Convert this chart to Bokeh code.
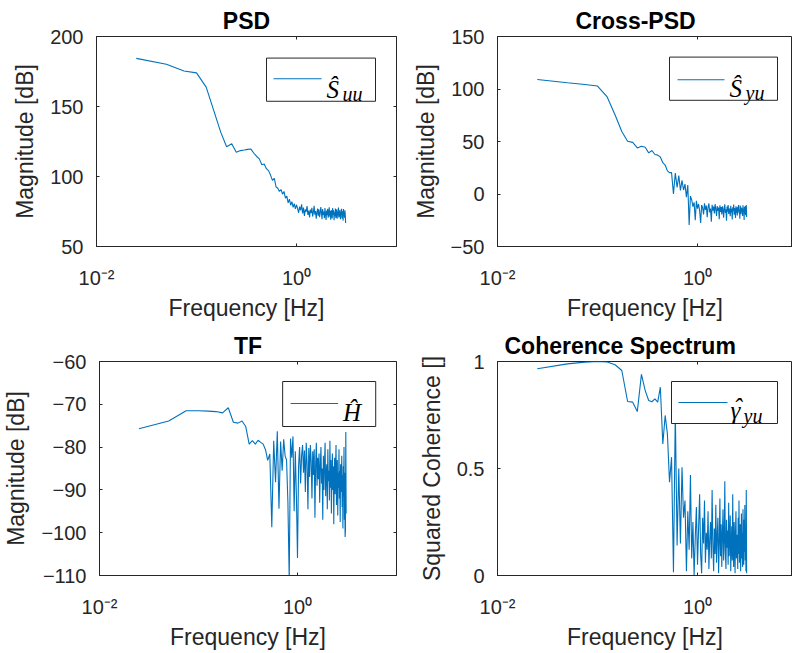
import numpy as np
from bokeh.plotting import figure
from bokeh.models import (Range1d, FixedTicker, LinearAxis, LogAxis,
                          BoxAnnotation, Label)
from bokeh.layouts import column, row
from bokeh.embed import file_html
from bokeh.resources import INLINE

# ---------------- data ----------------
freq_step = 0.025          # Hz, FFT bin spacing
n_bins = 124
freq = freq_step * np.arange(1, n_bins + 1)

psd_uu = [
    184.4, 180.2, 175.3, 174.0, 163.8, 146.3, 131.5, 121.3, 123.4, 117.3,
    118.5, 118.9, 119.4, 119.6, 116.6, 114.3, 112.6, 108.4, 108.9, 105.6,
    104.2, 101.0, 97.2, 98.6, 92.5, 91.6, 89.3, 90.7, 87.4, 89.3,
    84.5, 86.0, 81.2, 83.8, 79.5, 82.1, 78.0, 80.6, 76.9, 79.8,
    77.2, 74.1, 78.5, 75.9, 80.2, 73.6, 77.8, 71.9, 76.4, 74.8,
    78.9, 72.5, 75.7, 70.8, 76.3, 73.9, 77.6, 71.4, 74.6, 79.0,
    72.8, 75.4, 69.8, 74.2, 77.1, 72.0, 76.5, 70.9, 73.7, 78.2,
    74.4, 69.5, 76.8, 72.6, 75.0, 70.2, 77.4, 73.1, 68.9, 75.7,
    72.3, 76.9, 70.5, 74.0, 78.0, 71.2, 75.3, 69.2, 76.1, 73.4,
    70.1, 77.5, 72.7, 75.9, 68.7, 74.5, 71.6, 77.2, 70.4, 73.8,
    76.6, 69.9, 74.9, 72.1, 77.8, 70.7, 75.6, 71.3, 76.2, 69.4,
    74.3, 72.9, 77.0, 70.0, 75.1, 73.2, 68.5, 76.7, 71.8, 74.7,
    70.6, 75.8, 72.4, 66.8,
]

cpsd_yu = [
    109.0, 106.0, 104.3, 102.8, 92.4, 75.2, 59.6, 50.2, 49.2, 43.9,
    45.5, 44.5, 39.2, 41.4, 37.6, 37.0, 35.2, 29.8, 27.6, 22.0,
    20.4, 20.4, 0.1, 20.0, 6.3, 17.6, 3.5, 13.0, 3.8, 9.4,
    -3.0, 8.5, -29.6, -2.0, -5.5, -12.0, -8.0, -25.0, -6.5, -14.0,
    -9.5, -16.0, -27.5, -10.5, -13.0, -19.5, -8.8, -15.2, -11.0, -22.0,
    -12.5, -9.0, -17.5, -13.8, -26.5, -10.2, -15.8, -12.0, -18.6, -9.6,
    -14.5, -20.8, -11.5, -16.2, -13.0, -24.0, -10.8, -17.0, -12.4, -19.5,
    -11.8, -15.4, -22.5, -13.2, -9.8, -18.0, -14.6, -25.5, -12.0, -16.8,
    -10.5, -19.0, -13.8, -15.5, -21.2, -11.2, -17.5, -14.0, -24.2, -12.6,
    -16.0, -10.0, -19.8, -13.4, -15.2, -22.8, -11.6, -17.8, -13.0, -20.5,
    -12.2, -16.5, -10.4, -18.4, -14.8, -23.5, -11.0, -15.8, -19.2, -12.8,
    -17.2, -13.6, -21.0, -10.8, -16.4, -14.2, -24.8, -12.4, -18.8, -11.4,
    -20.2, -13.2, -10.6, -22.0,
]

tf_h = [
    -75.7, -73.9, -71.5, -71.5, -71.6, -71.7, -72.0, -70.8, -74.2, -74.4,
    -73.9, -75.2, -79.3, -78.5, -79.3, -78.4, -78.9, -79.3, -80.6, -83.1,
    -81.6, -98.7, -78.5, -88.2, -76.3, -94.4, -78.7, -85.5, -78.2, -82.1,
    -83.0, -92.9, -111.0, -78.0, -82.5, -77.5, -95.0, -81.0, -91.5, -105.9,
    -84.5, -80.0, -88.5, -82.0, -79.5, -86.0, -80.8, -90.5, -79.0, -84.0,
    -94.5, -80.2, -87.0, -79.5, -83.5, -92.0, -81.0, -86.5, -80.5, -96.5,
    -84.0, -79.0, -89.0, -82.5, -87.5, -81.5, -93.0, -84.5, -80.0, -88.5,
    -85.0, -97.0, -82.0, -90.0, -83.5, -79.0, -91.5, -86.0, -84.0, -94.5,
    -80.5, -88.0, -85.5, -92.5, -78.5, -89.5, -83.0, -95.5, -86.5, -81.5,
    -90.0, -84.5, -98.0, -87.0, -82.5, -91.0, -85.0, -79.5, -93.5, -88.0,
    -83.0, -96.0, -86.0, -89.5, -80.5, -92.0, -85.5, -97.5, -84.0, -90.5,
    -88.0, -82.0, -94.0, -86.5, -99.0, -84.5, -91.5, -80.0, -97.0, -86.0,
    -101.0, -99.5, -76.5, -95.5,
]

coh_yu = [
    0.966, 0.989, 0.997, 1.0, 0.998, 0.985, 0.958, 0.813, 0.81, 0.766,
    0.94, 0.864, 0.818, 0.812, 0.825, 0.81, 0.88, 0.615, 0.748, 0.662,
    0.436, 0.553, 0.015, 0.77, 0.14, 0.5, 0.15, 0.506, 0.27, 0.35,
    0.02, 0.30, 0.12, 0.47, 0.08, 0.25, 0.00, 0.18, 0.32, 0.05,
    0.22, 0.38, 0.10, 0.01, 0.27, 0.15, 0.35, 0.06, 0.20, 0.12,
    0.30, 0.03, 0.17, 0.25, 0.08, 0.40, 0.14, 0.02, 0.22, 0.10,
    0.33, 0.06, 0.19, 0.27, 0.01, 0.15, 0.36, 0.09, 0.24, 0.04,
    0.20, 0.31, 0.07, 0.16, 0.44, 0.11, 0.03, 0.26, 0.13, 0.21,
    0.05, 0.34, 0.09, 0.18, 0.28, 0.02, 0.14, 0.23, 0.07, 0.38,
    0.12, 0.04, 0.25, 0.16, 0.01, 0.21, 0.30, 0.08, 0.13, 0.19,
    0.03, 0.27, 0.10, 0.35, 0.06, 0.17, 0.24, 0.02, 0.12, 0.29,
    0.08, 0.20, 0.04, 0.31, 0.15, 0.05, 0.26, 0.11, 0.33, 0.07,
    0.22, 0.02, 0.40, 0.01,
]

x_ticks = [0.01, 1.0]
x_tick_labels = {0.01: "10\u207b\u00b2", 1.0: "10\u2070"}
psd_yticks = [50, 100, 150, 200]
cpsd_yticks = [-50, 0, 50, 100, 150]
tf_yticks = [-110, -100, -90, -80, -70, -60]
coh_yticks = [0, 0.5, 1]
coh_ytick_labels = {0: "0", 0.5: "0.5", 1: "1"}

# ---------------- style ----------------
FONT = "Liberation Sans"
MATH_FONT = "Liberation Serif"
AX = "#262626"
BLUE = "#0072BD"
X_MIN = 0.01


def style_axis(ax):
    ax.axis_line_color = AX
    ax.major_tick_line_color = AX
    ax.minor_tick_line_color = None
    ax.major_tick_in = 3
    ax.major_tick_out = 0
    ax.major_label_text_font = FONT
    ax.major_label_text_font_size = "20px"
    ax.major_label_text_color = AX
    ax.axis_label_text_font = FONT
    ax.axis_label_text_font_size = "23px"
    ax.axis_label_text_font_style = "normal"
    ax.axis_label_text_color = AX


def hide_labels(ax):
    ax.axis_line_color = None
    ax.major_label_text_font_size = "1px"
    ax.major_label_text_alpha = 0.0
    ax.major_label_standoff = 0


def make_panel(title, ylabel, series, yr, yticks, ytick_labels, legend,
               left_col, top_row):
    fw = 300 if left_col else 295
    x_max = 10 ** (np.log10(X_MIN) + fw / 100.0)
    width = 400 if left_col else 392
    mb_left = 96 if left_col else 97
    mb_right = 4 if left_col else 0
    if top_row:
        height, mb_top, mb_bottom = 323, 36, 73
    else:
        height, mb_top, mb_bottom = 330, 38, 78
    fh = height - mb_top - mb_bottom

    p = figure(output_backend="svg", toolbar_location=None,
               x_axis_type="log", width=width, height=height,
               x_range=Range1d(X_MIN, x_max), y_range=Range1d(*yr),
               min_border_left=mb_left, min_border_right=mb_right,
               min_border_top=mb_top, min_border_bottom=mb_bottom,
               background_fill_color="white", border_fill_color="white")
    p.grid.visible = False
    p.outline_line_color = AX
    p.outline_line_width = 1

    p.title.text = title
    p.title.text_font = FONT
    p.title.text_font_size = "23px"
    p.title.text_font_style = "bold"
    p.title.text_color = "black"
    p.title.standoff = 6
    if left_col:
        p.title.align = "center"
    else:
        p.title.align = "left"
        p.title.offset = legend["title_offset"]

    xa = p.xaxis[0]
    style_axis(xa)
    xa.ticker = FixedTicker(ticks=x_ticks)
    xa.major_label_overrides = x_tick_labels
    xa.major_label_standoff = 20
    xa.axis_label = "Frequency [Hz]"
    xa.axis_label_standoff = 3

    ya = p.yaxis[0]
    style_axis(ya)
    ya.ticker = FixedTicker(ticks=yticks)
    if ytick_labels:
        ya.major_label_overrides = ytick_labels
    ya.major_label_standoff = 13
    ya.axis_label = ylabel
    ya.axis_label_standoff = 9

    top = LogAxis(ticker=FixedTicker(ticks=x_ticks))
    style_axis(top)
    hide_labels(top)
    p.add_layout(top, "above")
    if left_col:
        rt = LinearAxis(ticker=FixedTicker(ticks=yticks))
        style_axis(rt)
        hide_labels(rt)
        p.add_layout(rt, "right")

    p.line(freq, series, line_color=BLUE, line_width=1.1)

    # legend drawn by hand (frame-relative pixel positions)
    y0, y1 = yr

    def fx(px):
        return 10 ** (np.log10(X_MIN) + px / 100.0)

    def fy(py):
        return y1 - py / fh * (y1 - y0)

    l, r, t, b = legend["box"]
    p.add_layout(BoxAnnotation(left=fx(l), right=fx(r), top=fy(t), bottom=fy(b),
                               fill_color="white", fill_alpha=1.0,
                               line_color=AX, line_width=1, line_alpha=1.0))
    sx0, sx1, sy = legend["sample"]
    p.segment(x0=[fx(sx0)], y0=[fy(sy)], x1=[fx(sx1)], y1=[fy(sy)],
              line_color=BLUE, line_width=1.1, level="overlay")
    for txt, px, py, size in legend["texts"]:
        p.add_layout(Label(x=fx(px), y=fy(py), text=txt, text_font=MATH_FONT,
                           text_font_style="italic", text_font_size=size,
                           text_color="black", text_baseline="alphabetic",
                           text_align="left"))
    return p


p1 = make_panel("PSD", "Magnitude [dB]", psd_uu, (50, 200), psd_yticks, None,
                {"box": (170, 279, 22, 66), "sample": (177, 225, 43),
                 "texts": [("\u015c", 230, 54, "25px"), ("uu", 246, 59, "20px")]},
                True, True)
p2 = make_panel("Cross-PSD", "Magnitude [dB]", cpsd_yu, (-50, 150), cpsd_yticks, None,
                {"box": (172, 280, 21, 65), "sample": (180, 227, 44),
                 "texts": [("\u015c", 232, 53, "25px"), ("yu", 248, 58, "20px")],
                 "title_offset": 78},
                False, True)
p3 = make_panel("TF", "Magnitude [dB]", tf_h, (-110, -60), tf_yticks, None,
                {"box": (185, 279, 20, 65), "sample": (193, 241, 42),
                 "texts": [("\u0124", 246, 51, "25px")]},
                True, False)
p4 = make_panel("Coherence Spectrum", "Squared Coherence []", coh_yu, (0, 1),
                coh_yticks, coh_ytick_labels,
                {"box": (174, 280, 20, 62), "sample": (181, 230, 41),
                 "texts": [("\u03b3", 233, 49, "25px"), ("\u02c6", 236, 46, "25px"),
                           ("yu", 246, 54, "20px")],
                 "title_offset": 7},
                False, False)

layout = column(row(p1, p2), row(p3, p4))
open("out.html", "w").write(file_html(layout, INLINE))
